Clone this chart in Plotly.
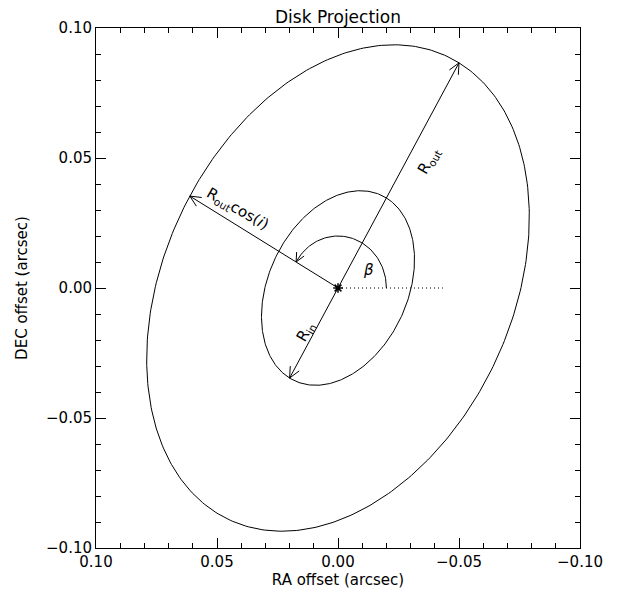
import numpy as np
import plotly.graph_objects as go

# disk geometry (arcsec / degrees)
r_out = 0.10
r_in = 0.04
pa_deg = 30.0
incl_deg = 45.0
beta_radius = 0.02
beta_end_deg = 150.0
ref_len = 0.044

x_ticks = [0.10, 0.05, 0.00, -0.05, -0.10]
y_ticks = [-0.10, -0.05, 0.00, 0.05, 0.10]

# page body has an 8px margin, so the figure is drawn 8px smaller
W, H = 615, 588
ml, mr, mt, mb = 88, 43, 20, 48
sx = (W - ml - mr) / 0.2   # px per arcsec
sy = (H - mt - mb) / 0.2

pa = np.radians(pa_deg)
cosi = np.cos(np.radians(incl_deg))
u = np.array([-np.sin(pa), np.cos(pa)])   # major axis (RA, DEC)
v = np.array([np.cos(pa), np.sin(pa)])    # minor axis


def ellipse(a, b, n=400):
    t = np.linspace(0, 2 * np.pi, n)
    pts = np.outer(a * np.cos(t), u) + np.outer(b * np.sin(t), v)
    return pts[:, 0], pts[:, 1]


def head(tip, d, L=12, ang=25):
    # open V arrow head, built in screen pixels
    ds = np.array([-d[0] * sx, d[1] * sy])
    ds = ds / np.linalg.norm(ds)
    xs, ys = [], []
    for s in (1, -1):
        a = np.radians(ang) * s
        r = np.array([[np.cos(a), -np.sin(a)], [np.sin(a), np.cos(a)]]) @ (-ds) * L
        xs += [tip[0] - r[0] / sx, tip[0], None]
        ys += [tip[1] + r[1] / sy, tip[1], None]
    return xs, ys


line = dict(color="black", width=1)
fig = go.Figure()

for a in (r_out, r_in):
    ex, ey = ellipse(a, a * cosi)
    fig.add_trace(go.Scatter(x=ex, y=ey, mode="lines", line=line))

# arrows from the centre
arrows = [u * r_out, v * r_out * cosi, -u * r_in]
for tip in arrows:
    fig.add_trace(go.Scatter(x=[0, tip[0]], y=[0, tip[1]], mode="lines", line=line))
    hx, hy = head(tip, tip)
    fig.add_trace(go.Scatter(x=hx, y=hy, mode="lines", line=line))

# reference direction (west) dotted
fig.add_trace(go.Scatter(x=[0, -ref_len], y=[0, 0], mode="lines",
                         line=dict(color="black", width=1, dash="1px,3px")))

# beta arc
t = np.radians(np.linspace(0, beta_end_deg, 100))
fig.add_trace(go.Scatter(x=-beta_radius * np.cos(t), y=beta_radius * np.sin(t),
                         mode="lines", line=line))
te = np.radians(beta_end_deg)
hx, hy = head([-beta_radius * np.cos(te), beta_radius * np.sin(te)],
              [np.sin(te), np.cos(te)], L=10)
fig.add_trace(go.Scatter(x=hx, y=hy, mode="lines", line=line))

# centre star
fig.add_trace(go.Scatter(x=[0], y=[0], mode="markers",
                         marker=dict(symbol="asterisk-open", size=8, color="black",
                                     line=dict(color="black", width=1.5))))

lab_font = dict(family="DejaVu Sans", size=15, color="black")
p1 = u * r_out * 0.61 - v * 0.008
p2 = v * r_out * cosi * 0.72 + u * 0.0055
p3 = -u * r_in * 0.53 + v * 0.003
labels = [
    (p1, "R<sub>out</sub>", -60),
    (p2, "R<sub>out</sub>cos(<i>i</i>)", 30),
    (p3, "R<sub>in</sub>", -60),
    ((-0.0125, 0.0069), "<i>β</i>", 0),
]
for p, txt, ang in labels:
    fig.add_annotation(x=p[0], y=p[1], text=txt, showarrow=False,
                       textangle=ang, font=lab_font)

axis = dict(showgrid=False, zeroline=False, showline=True, linecolor="black",
            linewidth=1, mirror="allticks", ticks="inside", ticklen=10,
            tickcolor="black", tickformat=".2f", automargin=False,
            tickfont=dict(family="DejaVu Sans", size=15, color="black"),
            minor=dict(ticks="inside", ticklen=5, dtick=0.01, tickcolor="black",
                       showgrid=False))

fig.update_layout(
    width=W, height=H,
    margin=dict(l=ml, r=mr, t=mt, b=mb),
    paper_bgcolor="white", plot_bgcolor="white",
    showlegend=False,
    title=dict(text="Disk Projection", x=(ml + (W - ml - mr) / 2) / W,
               xanchor="center", y=1 - 9 / H, yanchor="middle",
               font=dict(family="DejaVu Sans", size=17, color="black")),
    xaxis=dict(axis, range=[0.1, -0.1], tickvals=x_ticks,
               title=dict(text="RA offset (arcsec)", standoff=4,
                          font=dict(family="DejaVu Sans", size=15, color="black"))),
    yaxis=dict(axis, range=[-0.1, 0.1], tickvals=y_ticks,
               title=dict(text="DEC offset (arcsec)", standoff=14,
                          font=dict(family="DejaVu Sans", size=15, color="black"))),
)

fig.write_html("out.html")
